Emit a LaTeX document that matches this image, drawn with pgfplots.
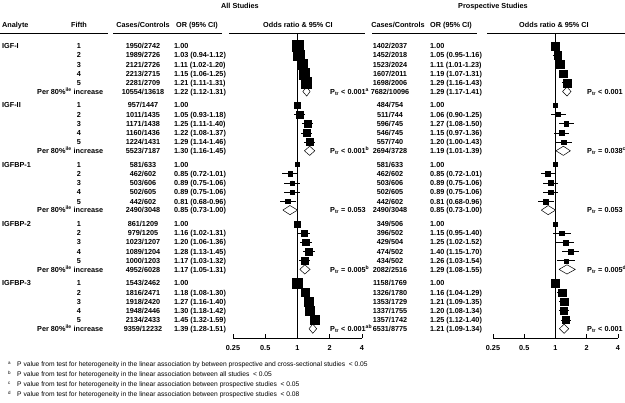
\documentclass[border=0pt]{standalone}
\usepackage{fontspec}
\setmainfont{Liberation Sans}
\usepackage{pgfplots}
\usepackage{pgfplotstable}
\pgfplotsset{compat=1.18}

% y = row position (px from top), or / lo / hi = odds ratio and 95% CI,
% sz = half side of square, w = 1 where the CI sits inside the square (drawn white)
\pgfplotstableread{
y or lo hi sz w
46.0 1.00 1.00 1.00 5.5 0
55.2 1.03 0.94 1.12 5.3 1
64.4 1.11 1.02 1.20 5.2 1
73.6 1.15 1.06 1.25 5.2 1
82.8 1.21 1.11 1.31 5.3 1
105.3 1.00 1.00 1.00 3.2 0
114.5 1.05 0.93 1.18 3.3 0
123.7 1.25 1.11 1.40 3.5 0
132.9 1.22 1.08 1.37 3.4 0
142.1 1.29 1.14 1.46 3.5 0
164.6 1.00 1.00 1.00 2.0 0
173.8 0.85 0.72 1.01 2.2 0
183.0 0.89 0.75 1.06 2.3 0
192.2 0.89 0.75 1.06 2.3 0
201.4 0.81 0.68 0.96 2.2 0
223.9 1.00 1.00 1.00 3.0 0
233.1 1.16 1.02 1.31 3.3 0
242.3 1.20 1.06 1.36 3.4 0
251.5 1.28 1.13 1.45 3.4 0
260.7 1.17 1.03 1.32 3.3 0
283.2 1.00 1.00 1.00 5.0 0
292.4 1.18 1.08 1.30 4.3 1
301.6 1.27 1.16 1.40 4.4 1
310.8 1.30 1.18 1.42 4.4 1
320.0 1.45 1.32 1.59 4.6 1
}\allsq

\pgfplotstableread{
y or lo hi sz
46.0 1.00 1.00 1.00 4.2
55.2 1.05 0.95 1.16 4.0
64.4 1.11 1.01 1.23 3.9
73.6 1.19 1.07 1.31 3.9
82.8 1.29 1.16 1.43 4.0
105.3 1.00 1.00 1.00 2.0
114.5 1.06 0.90 1.25 2.2
123.7 1.27 1.08 1.50 2.4
132.9 1.15 0.97 1.36 2.3
142.1 1.20 1.00 1.43 2.3
164.6 1.00 1.00 1.00 2.0
173.8 0.85 0.72 1.01 2.5
183.0 0.89 0.75 1.06 2.5
192.2 0.89 0.75 1.06 2.5
201.4 0.81 0.68 0.96 2.4
223.9 1.00 1.00 1.00 2.0
233.1 1.15 0.95 1.40 2.4
242.3 1.25 1.02 1.52 2.5
251.5 1.40 1.15 1.70 2.5
260.7 1.26 1.03 1.54 2.0
283.2 1.00 1.00 1.00 4.2
292.4 1.16 1.04 1.29 3.6
301.6 1.21 1.09 1.35 3.7
310.8 1.20 1.08 1.34 3.6
320.0 1.25 1.12 1.40 3.6
}\prosq

\newcommand\dia[4]{% lo, or, hi, row
  \pgfmathsetmacro\ya{#4-4.6}\pgfmathsetmacro\yb{#4+4.6}%
  \addplot[black, fill=white, line width=0.5bp] coordinates {(#1,#4) (#2,\ya) (#3,#4) (#2,\yb) (#1,#4)};}

\newcommand\squares[1]{%
  \addplot[black, only marks, scatter, mark=square*,
    scatter/use mapped color={draw=black, fill=black},
    visualization depends on={\thisrow{sz}\as\sz},
    scatter/@pre marker code/.append style={/tikz/mark size=\sz},
    error bars/.cd, x dir=both, x explicit, error mark=none,
    error bar style={line width=0.8bp, black}]
    table[x=or, y=y, x error plus expr=\thisrow{hi}-\thisrow{or},
          x error minus expr=\thisrow{or}-\thisrow{lo}] {#1};}

\newcommand\R[5]{%
  \node at (143,#1) {#2};
  \node[anchor=mid west] at (174,#1) {#3};
  \node at (390,#1) {#4};
  \node[anchor=mid west] at (430,#1) {#5};}

\begin{document}
\begin{tikzpicture}
\useasboundingbox (0,0) rectangle (625bp,-403bp);

\begin{axis}[at={(233bp,-338bp)}, width=129bp,
  anchor=south west, scale only axis, height=305bp,
  xmode=log, log basis x=2, xmin=0.25, xmax=4, ymin=33, ymax=338, y dir=reverse,
  axis x line*=bottom, axis y line=none, axis line style={line width=0.6bp},
  xtick={0.25,0.5,1,2,4}, xticklabels={0.25,0.5,1,2,4},
  tick align=inside, major tick length=4bp, tick style={line width=0.6bp, black},
  xticklabel style={font=\bfseries\fontsize{7.3}{8}\selectfont, inner sep=0pt, yshift=-7bp},
  clip=false]
  \addplot[black, line width=0.7bp] coordinates {(1,33) (1,338)};
  \squares{\allsq}
  \addplot[only marks, mark=none,
    error bars/.cd, x dir=both, x explicit, error mark=none,
    error bar style={line width=0.6bp, white}]
    table[x=or, y=y, x error plus expr={\thisrow{w}*(\thisrow{hi}-\thisrow{or})},
          x error minus expr={\thisrow{w}*(\thisrow{or}-\thisrow{lo})}] {\allsq};
  \dia{1.12}{1.22}{1.31}{91.5}
  \dia{1.16}{1.30}{1.45}{150.8}
  \dia{0.73}{0.85}{1.00}{210.1}
  \dia{1.05}{1.17}{1.31}{269.4}
  \dia{1.28}{1.39}{1.51}{328.7}
\end{axis}

\begin{axis}[at={(493bp,-338bp)}, width=125bp,
  anchor=south west, scale only axis, height=305bp,
  xmode=log, log basis x=2, xmin=0.25, xmax=4, ymin=33, ymax=338, y dir=reverse,
  axis x line*=bottom, axis y line=none, axis line style={line width=0.6bp},
  xtick={0.25,0.5,1,2,4}, xticklabels={0.25,0.5,1,2,4},
  tick align=inside, major tick length=4bp, tick style={line width=0.6bp, black},
  xticklabel style={font=\bfseries\fontsize{7.3}{8}\selectfont, inner sep=0pt, yshift=-7bp},
  clip=false]
  \addplot[black, line width=0.7bp] coordinates {(1,33) (1,338)};
  \squares{\prosq}
  \dia{1.17}{1.29}{1.41}{91.5}
  \dia{1.01}{1.19}{1.39}{150.8}
  \dia{0.73}{0.85}{1.00}{210.1}
  \dia{1.08}{1.29}{1.55}{269.4}
  \dia{1.09}{1.21}{1.34}{328.7}
\end{axis}

\begin{scope}[x=1bp, y=-1bp, every node/.style={inner sep=0pt, anchor=mid,
    font=\bfseries\fontsize{7.3}{8}\selectfont}]
  \node at (240,6) {All Studies};
  \node at (493,6) {Prospective Studies};
  \node[anchor=mid west] at (2,25) {Analyte};
  \node at (79,25) {Fifth};
  \node at (143,25) {Cases/Controls};
  \node[anchor=mid west] at (176,25) {OR (95\% CI)};
  \node at (298,25) {Odds ratio \& 95\% CI};
  \node at (398,25) {Cases/Controls};
  \node[anchor=mid west] at (430,25) {OR (95\% CI)};
  \node at (554,25) {Odds ratio \& 95\% CI};
  \begin{scope}[line width=0.6bp]
    \draw (0,33) -- (108,33);
    \draw (113,33) -- (222,33);
    \draw (229,33) -- (365,33);
    \draw (372,33) -- (477,33);
    \draw (487,33) -- (625,33);
  \end{scope}

  \node[anchor=mid west] at (2,46.0) {IGF-I};
  \node[anchor=mid west] at (2,105.3) {IGF-II};
  \node[anchor=mid west] at (2,164.6) {IGFBP-1};
  \node[anchor=mid west] at (2,223.9) {IGFBP-2};
  \node[anchor=mid west] at (2,283.2) {IGFBP-3};
  \foreach \g in {46.0,105.3,164.6,223.9,283.2}{
    \foreach \k in {1,...,5}{
      \node at (79,{\g+9.2*(\k-1)}) {\k};}
    \node[anchor=mid west] at (37,\g+45.5) {Per 80\%\textsuperscript{ile} increase};}

  \R{46.0}{1950/2742}{1.00}{1402/2037}{1.00}
  \R{55.2}{1989/2726}{1.03 (0.94-1.12)}{1452/2018}{1.05 (0.95-1.16)}
  \R{64.4}{2121/2726}{1.11 (1.02-1.20)}{1523/2024}{1.11 (1.01-1.23)}
  \R{73.6}{2213/2715}{1.15 (1.06-1.25)}{1607/2011}{1.19 (1.07-1.31)}
  \R{82.8}{2281/2709}{1.21 (1.11-1.31)}{1698/2006}{1.29 (1.16-1.43)}
  \R{91.5}{10554/13618}{1.22 (1.12-1.31)}{7682/10096}{1.29 (1.17-1.41)}
  \R{105.3}{957/1447}{1.00}{484/754}{1.00}
  \R{114.5}{1011/1435}{1.05 (0.93-1.18)}{511/744}{1.06 (0.90-1.25)}
  \R{123.7}{1171/1438}{1.25 (1.11-1.40)}{596/745}{1.27 (1.08-1.50)}
  \R{132.9}{1160/1436}{1.22 (1.08-1.37)}{546/745}{1.15 (0.97-1.36)}
  \R{142.1}{1224/1431}{1.29 (1.14-1.46)}{557/740}{1.20 (1.00-1.43)}
  \R{150.8}{5523/7187}{1.30 (1.16-1.45)}{2694/3728}{1.19 (1.01-1.39)}
  \R{164.6}{581/633}{1.00}{581/633}{1.00}
  \R{173.8}{462/602}{0.85 (0.72-1.01)}{462/602}{0.85 (0.72-1.01)}
  \R{183.0}{503/606}{0.89 (0.75-1.06)}{503/606}{0.89 (0.75-1.06)}
  \R{192.2}{502/605}{0.89 (0.75-1.06)}{502/605}{0.89 (0.75-1.06)}
  \R{201.4}{442/602}{0.81 (0.68-0.96)}{442/602}{0.81 (0.68-0.96)}
  \R{210.1}{2490/3048}{0.85 (0.73-1.00)}{2490/3048}{0.85 (0.73-1.00)}
  \R{223.9}{861/1209}{1.00}{349/506}{1.00}
  \R{233.1}{979/1205}{1.16 (1.02-1.31)}{396/502}{1.15 (0.95-1.40)}
  \R{242.3}{1023/1207}{1.20 (1.06-1.36)}{429/504}{1.25 (1.02-1.52)}
  \R{251.5}{1089/1204}{1.28 (1.13-1.45)}{474/502}{1.40 (1.15-1.70)}
  \R{260.7}{1000/1203}{1.17 (1.03-1.32)}{434/502}{1.26 (1.03-1.54)}
  \R{269.4}{4952/6028}{1.17 (1.05-1.31)}{2082/2516}{1.29 (1.08-1.55)}
  \R{283.2}{1543/2462}{1.00}{1158/1769}{1.00}
  \R{292.4}{1816/2471}{1.18 (1.08-1.30)}{1326/1780}{1.16 (1.04-1.29)}
  \R{301.6}{1918/2420}{1.27 (1.16-1.40)}{1353/1729}{1.21 (1.09-1.35)}
  \R{310.8}{1948/2446}{1.30 (1.18-1.42)}{1337/1755}{1.20 (1.08-1.34)}
  \R{320.0}{2134/2433}{1.45 (1.32-1.59)}{1357/1742}{1.25 (1.12-1.40)}
  \R{328.7}{9359/12232}{1.39 (1.28-1.51)}{6531/8775}{1.21 (1.09-1.34)}

  \begin{scope}[every node/.append style={anchor=mid west}]
    \node at (330,91.5) {P\textsubscript{tr} < 0.001\textsuperscript{a}};
    \node at (330,150.8) {P\textsubscript{tr} < 0.001\textsuperscript{b}};
    \node at (330,210.1) {P\textsubscript{tr} = 0.053};
    \node at (330,269.4) {P\textsubscript{tr} = 0.005\textsuperscript{b}};
    \node at (330,328.7) {P\textsubscript{tr} < 0.001\textsuperscript{ab}};
    \node at (587,91.5) {P\textsubscript{tr} < 0.001};
    \node at (587,150.8) {P\textsubscript{tr} = 0.038\textsuperscript{c}};
    \node at (587,210.1) {P\textsubscript{tr} = 0.053};
    \node at (587,269.4) {P\textsubscript{tr} = 0.005\textsuperscript{d}};
    \node at (587,328.7) {P\textsubscript{tr} < 0.001};
  \end{scope}

  \begin{scope}[every node/.append style={anchor=mid west, font=\fontsize{6.7}{7}\selectfont}]
    \foreach \l/\yy in {a/364,b/374,c/384,d/394}
      \node at (8,\yy-2) {\fontsize{4.5}{5}\selectfont\l};
    \node at (17,364) {P value from test for heterogeneity in the linear association by between prospective and cross-sectional studies \ < 0.05};
    \node at (17,374) {P value from test for heterogeneity in the linear association between all studies \ < 0.05};
    \node at (17,384) {P value from test for heterogeneity in the linear association between prospective studies \ < 0.05};
    \node at (17,394) {P value from test for heterogeneity in the linear association between prospective studies \ < 0.08};
  \end{scope}
\end{scope}
\end{tikzpicture}
\end{document}
